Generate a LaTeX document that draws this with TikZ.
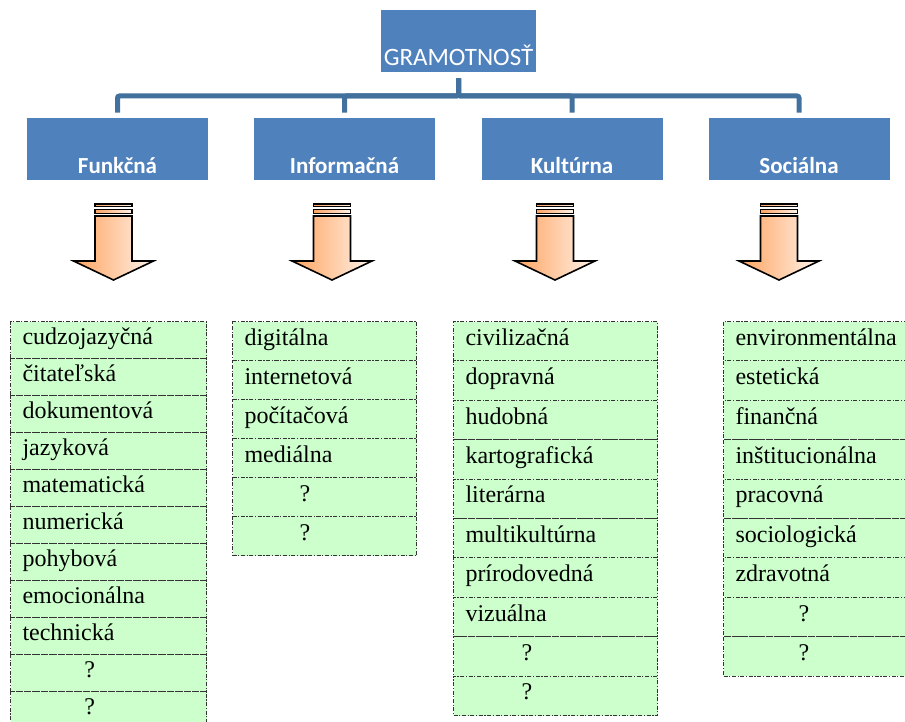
\documentclass[tikz,border=0pt]{standalone}
\usepackage{fontspec}
\setmainfont{Liberation Serif}
\newfontfamily\calibri{Carlito}
\usetikzlibrary{positioning}

\definecolor{modra}{HTML}{4F81BD}
\definecolor{tmodra}{HTML}{41719C}
\definecolor{zelena}{HTML}{CCFFCC}
\definecolor{oranz}{HTML}{FFA35F}
\definecolor{svetla}{HTML}{FFF3EA}

\newcommand{\otaz}[1]{\hspace*{#1}?}

\tikzset{
  hlava/.style={fill=modra, text=white, font=\calibri\fontsize{12.5}{14}\selectfont,
    minimum width=77.5pt, minimum height=31pt, inner xsep=1pt, inner ysep=0pt,
    text height=28pt, text depth=3pt},
  druh/.style={fill=modra, text=white, font=\calibri\bfseries\fontsize{11.5}{14}\selectfont,
    minimum width=90.5pt, minimum height=31pt, inner ysep=0pt, text height=27.5pt, text depth=3.5pt},
  polozka/.style={draw=black!80, dash pattern=on 2pt off 0.8pt on 0.6pt off 0.8pt, line width=0.5pt,
    fill=zelena, anchor=north west, inner xsep=6pt, inner ysep=0pt, align=left,
    text height=8pt, text depth=4pt, font=\fontsize{12}{14}\selectfont},
  spoj/.style={draw=tmodra, line width=2.5pt, rounded corners=1pt},
  sipka/.style={draw=black, line width=0.8pt, left color=oranz, right color=svetla}
}

\begin{document}
\begin{tikzpicture}[x=0.5pt,y=-0.5pt]
  \useasboundingbox (0,0) rectangle (905,722);
  \clip (0,0) rectangle (905,722);

  % gramotnost a druhy
  \node[hlava] (gram) at (458.5,41) {GRAMOTNOSŤ};
  \node[druh] (fun) at (117.5,149) {Funkčná};
  \node[druh] (inf) at (344.5,149) {Informačná};
  \node[druh] (kul) at (572,149) {Kultúrna};
  \node[druh] (soc) at (799,149) {Sociálna};

  % spojenia
  \coordinate (rail) at (0,96);
  \foreach \n in {fun,inf,kul,soc}
    \draw[spoj] ([yshift=-3pt]gram.south) -- (gram.south |- rail) -| ([yshift=2.5pt]\n.north);

  % sipky
  \foreach \x in {113.5,332,555,779} {
    \draw[sipka] ({\x-18.5},204) rectangle ({\x+18.5},206.5);
    \draw[sipka] ({\x-18.5},209.5) rectangle ({\x+18.5},213.5);
    \draw[sipka] ({\x-18.5},216) -- ({\x+18.5},216) -- ({\x+18.5},261) -- ({\x+40},261)
      -- (\x,280) -- ({\x-40},261) -- ({\x-18.5},261) -- cycle;
  }

  % funkcna
  \foreach \t [count=\i] in {cudzojazyčná, čitateľská, dokumentová, jazyková, matematická,
      numerická, pohybová, emocionálna, technická, \otaz{31pt}, \otaz{31pt}}
    \node[polozka, text width=86pt, minimum height=18.5pt] (f\i) at (10,{321+37*(\i-1)}) {\t};

  % informacna
  \foreach \t [count=\i] in {digitálna, internetová, počítačová, mediálna, \otaz{27.5pt}, \otaz{27.5pt}}
    \node[polozka, text width=80pt, minimum height=19.5pt] (i\i) at (232,{321+39*(\i-1)}) {\t};

  % kulturna
  \foreach \t [count=\i] in {civilizačná, dopravná, hudobná, kartografická, literárna,
      multikultúrna, prírodovedná, vizuálna, \otaz{28pt}, \otaz{28pt}}
    \node[polozka, text width=90pt, minimum height=19.75pt] (k\i) at (453,{321+39.4*(\i-1)}) {\t};

  % socialna
  \foreach \t [count=\i] in {environmentálna, estetická, finančná, inštitucionálna, pracovná,
      sociologická, zdravotná, \otaz{31.5pt}, \otaz{31.5pt}}
    \node[polozka, text width=83pt, minimum height=19.75pt] (s\i) at (723,{321+39.4*(\i-1)}) {\t};
\end{tikzpicture}
\end{document}
